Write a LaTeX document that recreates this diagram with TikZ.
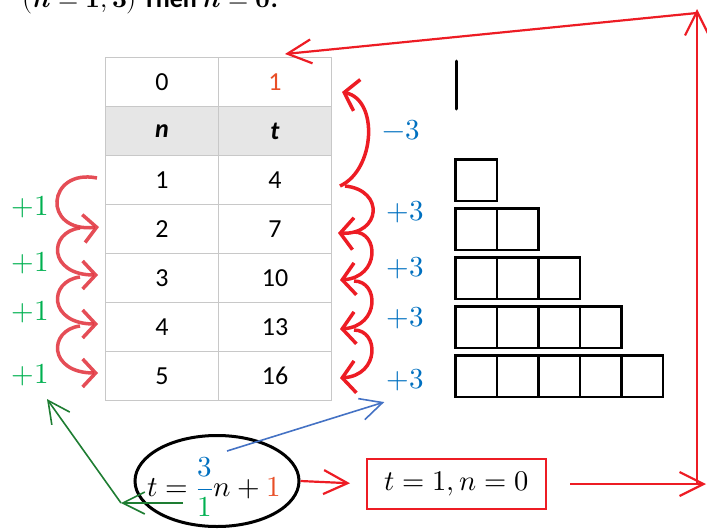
\documentclass[tikz,border=0pt]{standalone}
\usepackage{amsmath}
\usepackage{fontspec}
\usepackage{unicode-math}
\setmainfont{Carlito}
\setmathfont{Latin Modern Math}
\usepackage{tikz}
\usetikzlibrary{shapes.geometric, arrows.meta, positioning, calc}
\definecolor{markred}{RGB}{237, 28, 36}
\definecolor{softred}{RGB}{226, 58, 68}
\definecolor{stepblue}{RGB}{0, 112, 192}
\definecolor{stepgreen}{RGB}{0, 176, 80}
\definecolor{darkgreen}{RGB}{30, 125, 50}
\definecolor{lineblue}{RGB}{68, 114, 196}
\definecolor{startorange}{RGB}{232, 78, 38}
\definecolor{gridgray}{RGB}{200, 200, 200}
\definecolor{headgray}{RGB}{230, 230, 230}

\begin{document}
\begin{tikzpicture}[
    x=1pt, y=-1pt,
    cell/.style={draw=gridgray, line width=1pt, minimum width=113pt,
                 minimum height=49pt, inner sep=0pt,
                 font=\fontsize{26}{31}\selectfont},
    unitsq/.style={draw, line width=2.5pt, minimum size=41.5pt, inner sep=0pt},
    steplabel/.style={font=\fontsize{29}{34}\selectfont, inner sep=1pt},
    loopl/.style={softred, line width=3.5pt, opacity=0.9,
                  -{Straight Barb[length=13pt, width=28pt]}},
    loopr/.style={markred, line width=3.5pt,
                  -{Straight Barb[length=13pt, width=32pt]}},
    arrow/.style={markred, line width=2.2pt,
                  -{Straight Barb[length=24pt, width=24pt]}},
    pointer/.style={line width=1.6pt, -{Straight Barb[length=22pt, width=22pt]}},
]
    \useasboundingbox (0,0) rectangle (707,528);

    \node[anchor=base west, inner sep=0pt,
          font=\fontsize{26}{31}\selectfont\bfseries] (title)
        at (22,7) {$(\symbfit{n}=\symbf{1},\symbf{3})$ Then $\symbfit{n}=\symbf{0}$.};

    \node[cell] (n0) at (162,82) {0};
    \node[cell] (t0) at (275,82) {\textcolor{startorange}{1}};
    \node[cell, fill=headgray] (nh) at (162,131) {\textbf{\textit{n}}};
    \node[cell, fill=headgray] (th) at (275,131) {\textbf{\textit{t}}};
    \foreach \nv/\tv [count=\i] in {1/4, 2/7, 3/10, 4/13, 5/16} {
        \node[cell] (n\i) at (162,{131+49*\i}) {\nv};
        \node[cell] (t\i) at (275,{131+49*\i}) {\tv};
    }

    \draw[line width=3pt, line cap=round] (456,61) -- (456,109);
    \foreach \r in {1,...,5} {
        \foreach \c in {1,...,\r} {
            \node[unitsq] (s\r\c) at ({476+41.5*(\c-1)},{131+49*\r}) {};
        }
    }

    \foreach \y [count=\i] in {207, 263, 312, 375}
        \node[steplabel, text=stepgreen] (p\i) at (30,\y) {$+1$};
    \node[steplabel, text=stepblue] (m0) at (401,130) {$-3$};
    \foreach \y [count=\i] in {212, 268, 318, 380}
        \node[steplabel, text=stepblue] (a\i) at (405,\y) {$+3$};

    \draw[loopl] ($(n1.west)+(-8,-2)$) .. controls +(-50,-10) and +(-58,6)
        .. ($(n2.west)+(-6,-2)$);
    \foreach \i/\j in {2/3, 3/4, 4/5}
        \draw[loopl] ($(n\i.west)+(-25,-1)$) .. controls +(-32,4) and +(-50,0)
            .. ($(n\j.west)+(-7,-3)$);

    \draw[loopr] ($(t1.east)+(8,6)$) .. controls +(35,-16) and +(37,8)
        .. ($(t0.east)+(10,10)$);
    \draw[loopr] ($(t1.east)+(13,6)$) .. controls +(40,4) and +(43,2)
        .. ($(t2.east)+(6,4)$);
    \foreach \i/\j in {2/3, 3/4, 4/5}
        \draw[loopr] ($(t\i.east)+(22,3)$) .. controls +(25,0) and +(40,-3)
            .. ($(t\j.east)+(8,2)$);

    \node[draw, ellipse, line width=3pt, minimum width=164pt,
          minimum height=91pt] (ring) at (217,481) {};
    \node[steplabel] (eq) at (214,487)
        {$t=\textcolor{stepblue}{\dfrac{3}{\textcolor{stepgreen}{1}}}n
          +\textcolor{startorange}{1}$};
    \node[draw=markred, line width=2pt, minimum width=179pt, minimum height=50pt,
          font=\fontsize{28.5}{33}\selectfont] (init) at (456.5,484) {$t=1,n=0$};

    \coordinate (num) at (227,451);
    \coordinate (den) at (183,503);
    \coordinate (bend) at (121,503);
    \coordinate (cornerB) at (697,484);
    \coordinate (cornerT) at (697,9);

    \draw[pointer, lineblue] (num) -- ($(a4.south west)+(-1,10)$);
    \draw[pointer, darkgreen] (den) -- (bend);
    \draw[pointer, darkgreen] (bend) -- ($(p4.south)+(17,12)$);

    \draw[arrow, shorten >=16pt] (ring.east) -- (init.west);
    \draw[arrow, shorten <=23pt] (init.east) -- ($(cornerB)+(9,0)$);
    \draw[arrow] (cornerB) -- (cornerT);
    \draw[arrow] ($(cornerT)+(0,4)$) -- ($(t0.north)+(10,-3)$);
\end{tikzpicture}
\end{document}
